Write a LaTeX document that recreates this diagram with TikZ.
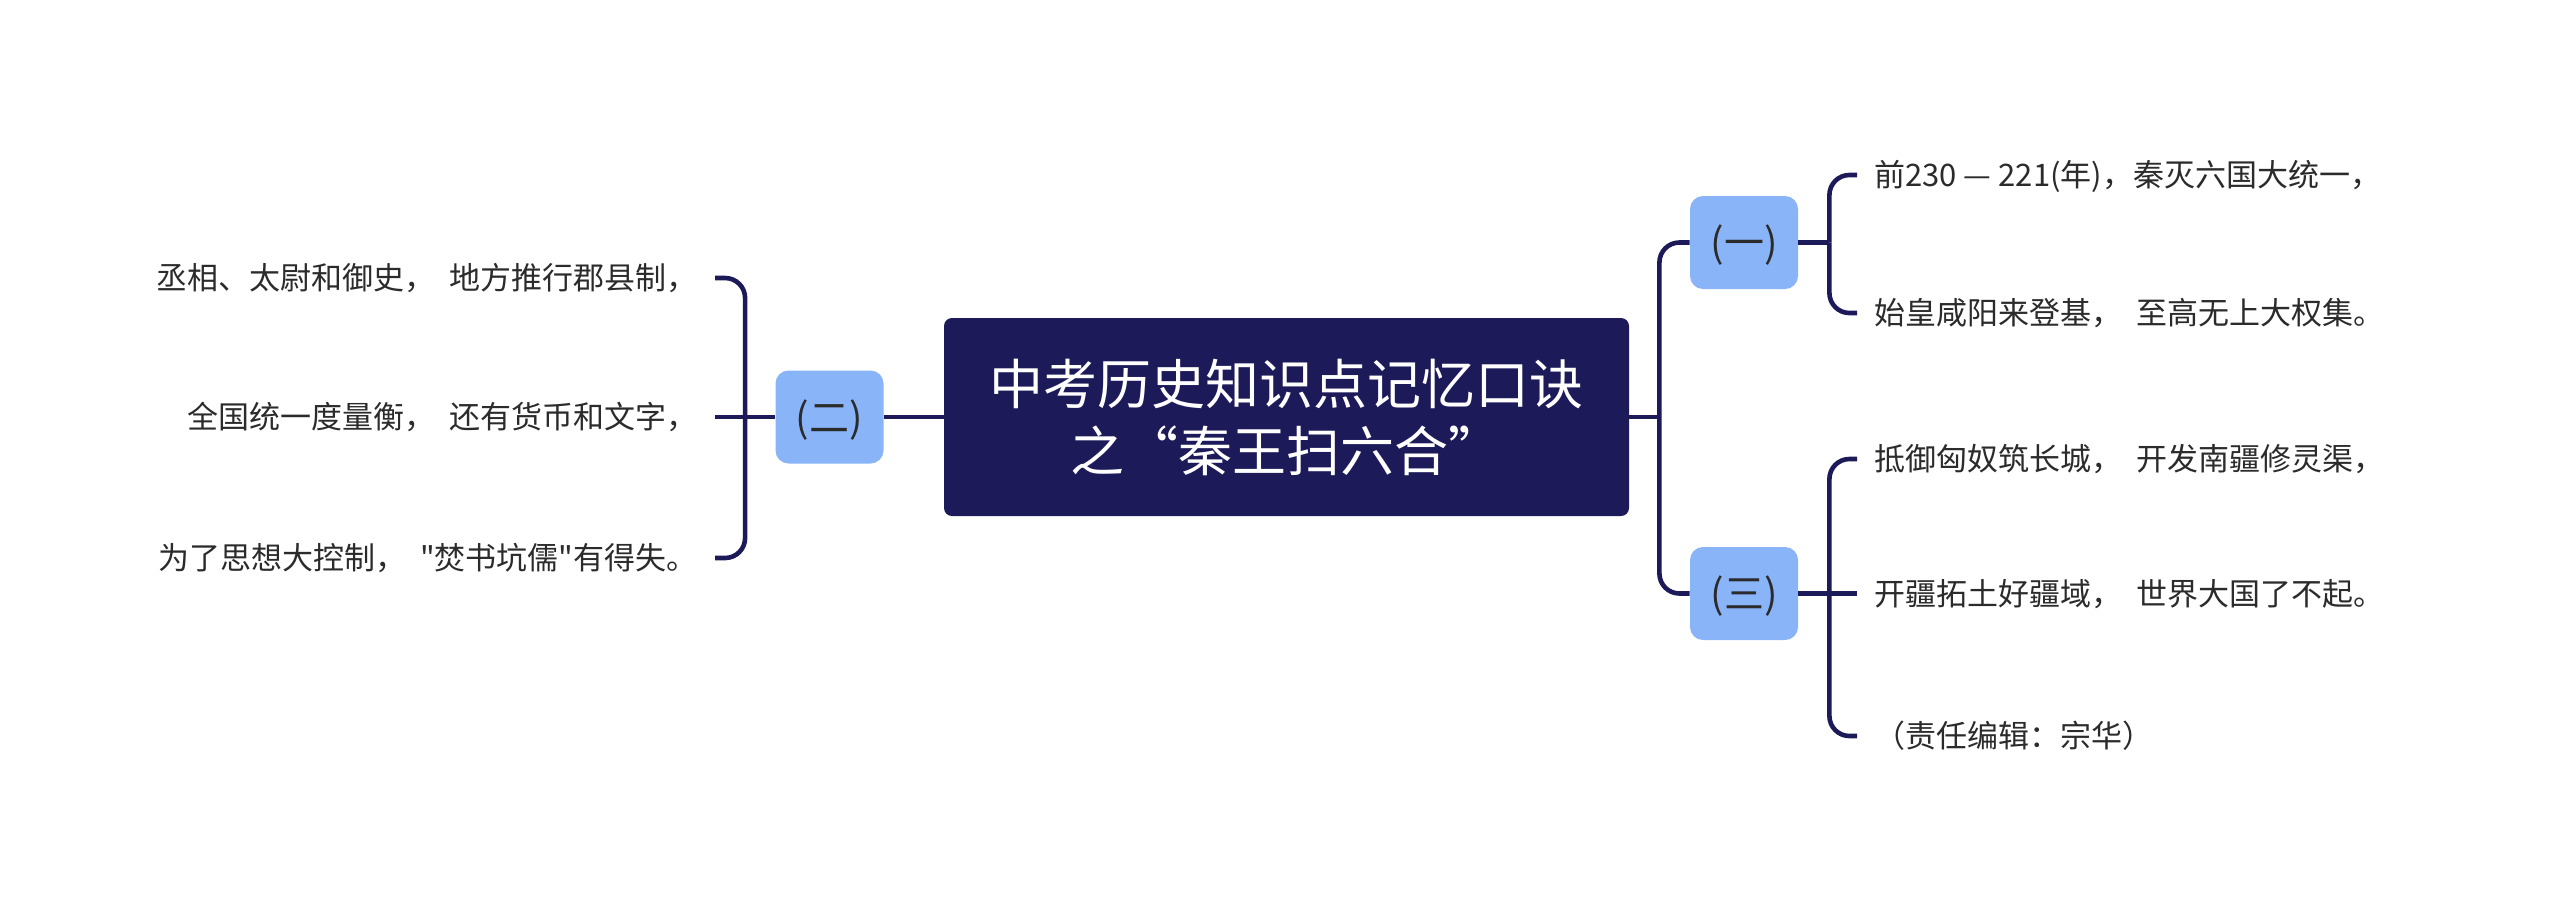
\documentclass[tikz,border=0pt]{standalone}
\usepackage{fontspec}
\setmainfont{Noto Sans CJK SC}[Ligatures=TeXOff]
\usetikzlibrary{calc}
\definecolor{navy}{HTML}{1D1A5A}
\definecolor{lblue}{HTML}{8AB4F8}
\definecolor{txt}{HTML}{2B2B2B}
\newcommand\gp{\hspace{0.45em}}
\begin{document}
\begin{tikzpicture}[x=0.5pt,y=-0.5pt,
 conn/.style={draw=navy,line width=2.3pt,rounded corners=10pt},
 leaf/.style={font=\fontsize{15.5pt}{18pt}\selectfont,text=txt,inner xsep=8.5pt,inner ysep=2pt,text height=13.6pt,text depth=1.9pt},
 sub/.style={fill=lblue,rounded corners=6.5pt,minimum width=54pt,minimum height=46.5pt,font=\fontsize{20pt}{24pt}\selectfont,text=txt,inner sep=0pt,text height=17.6pt,text depth=2.4pt},
 root/.style={fill=navy,rounded corners=4pt,minimum width=342.5pt,minimum height=99pt,text=white,align=center,font=\fontsize{27pt}{33.5pt}\selectfont}]
\useasboundingbox (0,0) rectangle (2560,906);
\fill[white] (0,0) rectangle (2560,906);

\node[root] (root) at (1286.5,417) {中考历史知识点记忆口诀\\之“秦王扫六合”};
\node[sub] (one) at (1744,242.5) {(一)};
\node[sub] (three) at (1744,593.5) {(三)};
\node[sub] (two) at (829.5,417) {(二)};

\node[leaf,anchor=west] (a1) at (1857,175) {前230 — 221(年)，秦灭六国大统一，};
\node[leaf,anchor=west] (a2) at (1857,313) {始皇咸阳来登基，\gp 至高无上大权集。};
\node[leaf,anchor=west] (a3) at (1857,459) {抵御匈奴筑长城，\gp 开发南疆修灵渠，};
\node[leaf,anchor=west] (a4) at (1857,593.5) {开疆拓土好疆域，\gp 世界大国了不起。};
\node[leaf,anchor=west] (a5) at (1857,736) {（责任编辑：宗华）};

\node[leaf,anchor=east] (l1) at (715,278) {丞相、太尉和御史，\gp 地方推行郡县制，};
\node[leaf,anchor=east] (l2) at (715,417) {全国统一度量衡，\gp 还有货币和文字，};
\node[leaf,anchor=east] (l3) at (715,558) {为了思想大控制，\gp "焚书坑儒"有得失。};

% right main
\coordinate (jc) at ($(root.east)+(30,0)$);
\draw[conn] (root.east) -- (jc);
\draw[conn] (jc) |- (one.west);
\draw[conn] (jc) |- (three.west);
% (一)
\coordinate (j1) at ($(one.east)+(31,0)$);
\draw[conn] (one.east) -- (j1);
\draw[conn] (j1) |- (a1.west);
\draw[conn] (j1) |- (a2.west);
% (三)
\coordinate (j3) at ($(three.east)+(31,0)$);
\draw[conn] (three.east) -- (a4.west);
\draw[conn] (j3) |- (a3.west);
\draw[conn] (j3) |- (a5.west);
% left
\draw[conn] (root.west) -- (two.east);
\coordinate (jl) at ($(two.west)+(-30,0)$);
\draw[conn] (two.west) -- (l2.east);
\draw[conn] (jl) |- (l1.east);
\draw[conn] (jl) |- (l3.east);
\end{tikzpicture}
\end{document}
